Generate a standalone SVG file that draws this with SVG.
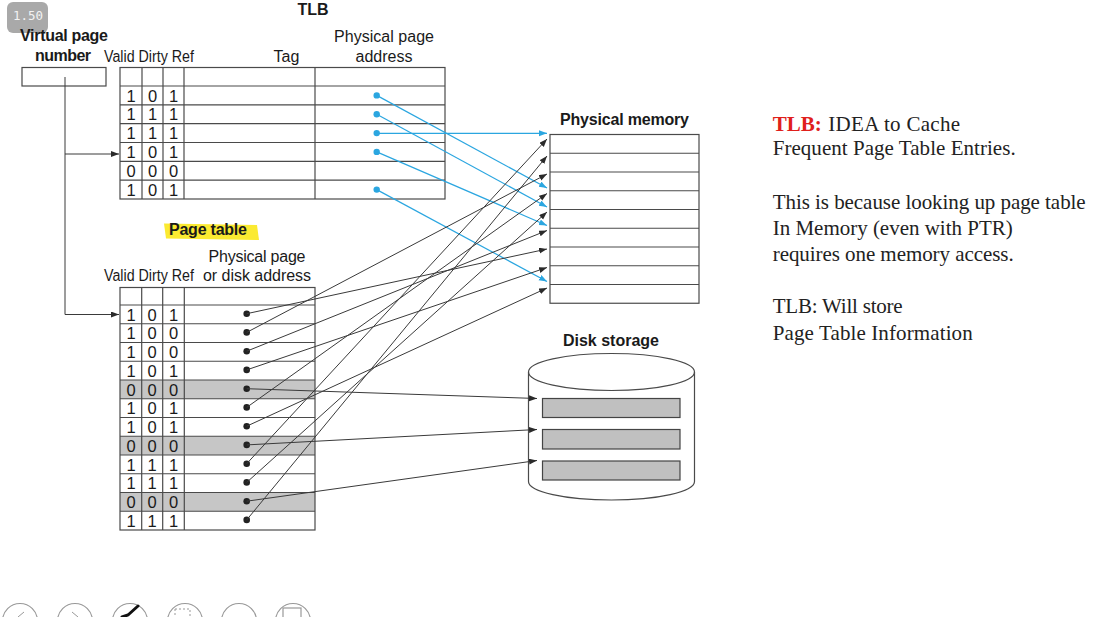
<svg xmlns="http://www.w3.org/2000/svg" width="1113" height="617" viewBox="0 0 1113 617">
<style>
.grid{fill:none;stroke:#4a4a4a;stroke-width:1.2}
.ln{stroke:#4a4a4a;stroke-width:1.2}
.sans{font-family:"Liberation Sans",Arial,Helvetica,sans-serif;fill:#1a1a1a}
.b{font-weight:bold}
.h{font-size:16px}
.dig{font-family:"Liberation Sans",Arial,sans-serif;font-size:16.5px;fill:#1a1a1a;text-anchor:middle}
.serif{font-family:"Liberation Serif","Times New Roman",serif;font-size:21px;fill:#222}
.red{fill:#e0201b;font-weight:bold}
.conn{stroke:#3a3a3a;stroke-width:1;fill:none;marker-end:url(#ah)}
.blue{stroke:#2ba6e0;stroke-width:1.2;fill:none;marker-end:url(#ahb)}
.dot{fill:#222}
.bdot{fill:#2ba6e0}
.gray{fill:#c6c6c6}
.slot{fill:#c0c0c0;stroke:#444;stroke-width:1.2}
.tb{fill:#fff;stroke:#999;stroke-width:1.2}
</style>
<defs>
<marker id="ah" markerUnits="userSpaceOnUse" markerWidth="9" markerHeight="7" refX="8" refY="3" orient="auto"><path d="M0,0 L8,3 L0,6 z" fill="#2a2a2a"/></marker>
<marker id="ahb" markerUnits="userSpaceOnUse" markerWidth="9" markerHeight="7" refX="8" refY="3" orient="auto"><path d="M0,0 L8,3 L0,6 z" fill="#2ba6e0"/></marker>
</defs>
<rect width="1113" height="617" fill="#fff"/>

<g id="badge">
<rect x="7" y="2" width="41" height="31" rx="6" fill="#9a9a9a" opacity="0.85"/>
<text x="13" y="20" font-family="'DejaVu Sans Mono','Liberation Mono',monospace" font-size="12.5" fill="#f2f2f2">1.50</text>
</g>

<g id="virtual-page-number">
<text class="sans b h" x="20" y="41" textLength="88">Virtual page</text>
<text class="sans b h" x="35" y="61" textLength="56">number</text>
<rect class="grid" x="22" y="67.5" width="84" height="18.5"/>
</g>

<g id="tlb">
<text class="sans b h" x="313" y="15" text-anchor="middle">TLB</text>
<text class="sans" font-size="16" x="104" y="61.5" textLength="90" lengthAdjust="spacingAndGlyphs">Valid Dirty Ref</text>
<text class="sans h" x="286.5" y="61.5" text-anchor="middle">Tag</text>
<text class="sans h" x="384" y="41.5" text-anchor="middle" textLength="100">Physical page</text>
<text class="sans h" x="384" y="61.5" text-anchor="middle">address</text>
<rect class="grid" x="120" y="67.5" width="325" height="131.5"/>
<g class="ln">
<line x1="120" y1="86" x2="445" y2="86"/>
<line x1="120" y1="104.8" x2="445" y2="104.8"/>
<line x1="120" y1="123.7" x2="445" y2="123.7"/>
<line x1="120" y1="142.5" x2="445" y2="142.5"/>
<line x1="120" y1="161.3" x2="445" y2="161.3"/>
<line x1="120" y1="180.2" x2="445" y2="180.2"/>
<line x1="142" y1="67.5" x2="142" y2="199"/>
<line x1="163" y1="67.5" x2="163" y2="199"/>
<line x1="184" y1="67.5" x2="184" y2="199"/>
<line x1="315" y1="67.5" x2="315" y2="199"/>
</g>
<g>
<text class="dig" x="131" y="101.5">1</text><text class="dig" x="152.5" y="101.5">0</text><text class="dig" x="173.5" y="101.5">1</text>
<text class="dig" x="131" y="120.3">1</text><text class="dig" x="152.5" y="120.3">1</text><text class="dig" x="173.5" y="120.3">1</text>
<text class="dig" x="131" y="139.2">1</text><text class="dig" x="152.5" y="139.2">1</text><text class="dig" x="173.5" y="139.2">1</text>
<text class="dig" x="131" y="158">1</text><text class="dig" x="152.5" y="158">0</text><text class="dig" x="173.5" y="158">1</text>
<text class="dig" x="131" y="176.8">0</text><text class="dig" x="152.5" y="176.8">0</text><text class="dig" x="173.5" y="176.8">0</text>
<text class="dig" x="131" y="195.7">1</text><text class="dig" x="152.5" y="195.7">0</text><text class="dig" x="173.5" y="195.7">1</text>
</g>
<circle class="bdot" cx="376.7" cy="95.4" r="3.2"/>
<circle class="bdot" cx="376.7" cy="114.3" r="3.2"/>
<circle class="bdot" cx="376.7" cy="133.1" r="3.2"/>
<circle class="bdot" cx="376.7" cy="151.9" r="3.2"/>
<circle class="bdot" cx="376.7" cy="189.6" r="3.2"/>
</g>

<g id="page-table">
<path d="M164,223.5 L257,225 L259,240 L166,238.5 Z" fill="#fbe820" opacity="0.92"/>
<text class="sans b h" x="169" y="234.5" textLength="78">Page table</text>
<text class="sans h" x="257" y="261.5" text-anchor="middle" textLength="97">Physical page</text>
<text class="sans h" x="257" y="281" text-anchor="middle" textLength="108">or disk address</text>
<text class="sans" font-size="16" x="104" y="281" textLength="90" lengthAdjust="spacingAndGlyphs">Valid Dirty Ref</text>
<rect class="gray" x="120" y="380" width="195" height="18.75"/>
<rect class="gray" x="120" y="436.25" width="195" height="18.75"/>
<rect class="gray" x="120" y="492.5" width="195" height="18.75"/>
<rect class="grid" x="120" y="287.5" width="195" height="242.5"/>
<g class="ln">
<line x1="120" y1="305" x2="315" y2="305"/>
<line x1="120" y1="323.75" x2="315" y2="323.75"/>
<line x1="120" y1="342.5" x2="315" y2="342.5"/>
<line x1="120" y1="361.25" x2="315" y2="361.25"/>
<line x1="120" y1="380" x2="315" y2="380"/>
<line x1="120" y1="398.75" x2="315" y2="398.75"/>
<line x1="120" y1="417.5" x2="315" y2="417.5"/>
<line x1="120" y1="436.25" x2="315" y2="436.25"/>
<line x1="120" y1="455" x2="315" y2="455"/>
<line x1="120" y1="473.75" x2="315" y2="473.75"/>
<line x1="120" y1="492.5" x2="315" y2="492.5"/>
<line x1="120" y1="511.25" x2="315" y2="511.25"/>
<line x1="141.7" y1="287.5" x2="141.7" y2="530"/>
<line x1="162.7" y1="287.5" x2="162.7" y2="530"/>
<line x1="184.3" y1="287.5" x2="184.3" y2="530"/>
</g>
<g>
<text class="dig" x="131" y="320.5">1</text><text class="dig" x="152.2" y="320.5">0</text><text class="dig" x="173.5" y="320.5">1</text>
<text class="dig" x="131" y="339.2">1</text><text class="dig" x="152.2" y="339.2">0</text><text class="dig" x="173.5" y="339.2">0</text>
<text class="dig" x="131" y="358">1</text><text class="dig" x="152.2" y="358">0</text><text class="dig" x="173.5" y="358">0</text>
<text class="dig" x="131" y="376.7">1</text><text class="dig" x="152.2" y="376.7">0</text><text class="dig" x="173.5" y="376.7">1</text>
<text class="dig" x="131" y="395.5">0</text><text class="dig" x="152.2" y="395.5">0</text><text class="dig" x="173.5" y="395.5">0</text>
<text class="dig" x="131" y="414.2">1</text><text class="dig" x="152.2" y="414.2">0</text><text class="dig" x="173.5" y="414.2">1</text>
<text class="dig" x="131" y="433">1</text><text class="dig" x="152.2" y="433">0</text><text class="dig" x="173.5" y="433">1</text>
<text class="dig" x="131" y="451.7">0</text><text class="dig" x="152.2" y="451.7">0</text><text class="dig" x="173.5" y="451.7">0</text>
<text class="dig" x="131" y="470.5">1</text><text class="dig" x="152.2" y="470.5">1</text><text class="dig" x="173.5" y="470.5">1</text>
<text class="dig" x="131" y="489.2">1</text><text class="dig" x="152.2" y="489.2">1</text><text class="dig" x="173.5" y="489.2">1</text>
<text class="dig" x="131" y="508">0</text><text class="dig" x="152.2" y="508">0</text><text class="dig" x="173.5" y="508">0</text>
<text class="dig" x="131" y="526.7">1</text><text class="dig" x="152.2" y="526.7">1</text><text class="dig" x="173.5" y="526.7">1</text>
</g>
<g class="dot">
<circle cx="246.7" cy="313.7" r="3.3"/>
<circle cx="246.7" cy="332.4" r="3.3"/>
<circle cx="246.7" cy="351.2" r="3.3"/>
<circle cx="246.7" cy="369.9" r="3.3"/>
<circle cx="246.7" cy="388.7" r="3.3"/>
<circle cx="246.7" cy="407.4" r="3.3"/>
<circle cx="246.7" cy="426.2" r="3.3"/>
<circle cx="246.7" cy="444.9" r="3.3"/>
<circle cx="246.7" cy="463.7" r="3.3"/>
<circle cx="246.7" cy="482.4" r="3.3"/>
<circle cx="246.7" cy="501.2" r="3.3"/>
<circle cx="246.7" cy="519.9" r="3.3"/>
</g>
</g>

<g id="physical-memory">
<text class="sans b h" x="624.5" y="125" text-anchor="middle" textLength="129">Physical memory</text>
<rect class="grid" x="550" y="134.5" width="149" height="168.75"/>
<g class="ln">
<line x1="550" y1="153.25" x2="699" y2="153.25"/>
<line x1="550" y1="172" x2="699" y2="172"/>
<line x1="550" y1="190.75" x2="699" y2="190.75"/>
<line x1="550" y1="209.5" x2="699" y2="209.5"/>
<line x1="550" y1="228.25" x2="699" y2="228.25"/>
<line x1="550" y1="247" x2="699" y2="247"/>
<line x1="550" y1="265.75" x2="699" y2="265.75"/>
<line x1="550" y1="284.5" x2="699" y2="284.5"/>
</g>
</g>

<g id="disk-storage">
<text class="sans b h" x="611" y="345.5" text-anchor="middle">Disk storage</text>
<path class="grid" d="M528.5,372 A83,18.5 0 0 1 694.5,372 V481.5 A83,18.5 0 0 1 528.5,481.5 Z" fill="#fff"/>
<path class="grid" d="M528.5,372 A83,18.5 0 0 0 694.5,372"/>
<rect class="slot" x="542.5" y="398.5" width="137.5" height="19"/>
<rect class="slot" x="542.5" y="429.5" width="137.5" height="19.5"/>
<rect class="slot" x="542.5" y="461" width="137.5" height="19"/>
</g>

<g id="connectors">
<polyline points="65,77 65,314.5" fill="none" stroke="#3a3a3a" stroke-width="1"/>
<line class="conn" x1="65" y1="154" x2="119" y2="154"/>
<line class="conn" x1="65" y1="314.5" x2="119" y2="314.5"/>
<line class="blue" x1="376.7" y1="95.4" x2="547" y2="188"/>
<line class="blue" x1="376.7" y1="114.3" x2="547" y2="207"/>
<line class="blue" x1="376.7" y1="133.3" x2="547" y2="133.3"/>
<line class="blue" x1="376.7" y1="151.9" x2="547" y2="225.5"/>
<line class="blue" x1="376.7" y1="189.6" x2="547" y2="281.5"/>
<line class="conn" x1="246.7" y1="313.7" x2="547" y2="249"/>
<line class="conn" x1="246.7" y1="332.4" x2="547" y2="174"/>
<line class="conn" x1="246.7" y1="351.2" x2="547" y2="230.5"/>
<line class="conn" x1="246.7" y1="369.9" x2="547" y2="267.5"/>
<line class="conn" x1="246.7" y1="407.4" x2="547" y2="193.5"/>
<line class="conn" x1="246.7" y1="426.2" x2="547" y2="288"/>
<line class="conn" x1="246.7" y1="463.7" x2="547" y2="139"/>
<line class="conn" x1="246.7" y1="482.4" x2="547" y2="212"/>
<line class="conn" x1="246.7" y1="519.9" x2="547" y2="156"/>
<line class="conn" x1="246.7" y1="388.7" x2="537" y2="398.5"/>
<line class="conn" x1="246.7" y1="444.9" x2="537" y2="429.5"/>
<line class="conn" x1="246.7" y1="501.2" x2="537" y2="460.5"/>
</g>

<g id="note-text">
<text class="serif red" x="772.7" y="130.7" textLength="49">TLB:</text>
<text class="serif" x="828.3" y="130.7" textLength="131.7">IDEA to Cache</text>
<text class="serif" x="772.7" y="155.3" textLength="243">Frequent Page Table Entries.</text>
<text class="serif" x="772.7" y="208.5" textLength="313">This is because looking up page table</text>
<text class="serif" x="772.7" y="235" textLength="240">In Memory (even with PTR)</text>
<text class="serif" x="772.7" y="261" textLength="241">requires one memory access.</text>
<text class="serif" x="772.7" y="313.3" textLength="130">TLB: Will store</text>
<text class="serif" x="772.7" y="339.8" textLength="200">Page Table Information</text>
</g>

<g id="toolbar">
<circle class="tb" cx="20" cy="621" r="17.5"/>
<circle class="tb" cx="75" cy="621" r="17.5"/>
<circle class="tb" cx="130" cy="621" r="17.5"/>
<circle class="tb" cx="185" cy="621" r="17.5"/>
<circle class="tb" cx="239" cy="621" r="17.5"/>
<circle class="tb" cx="293" cy="621" r="17.5"/>
<polyline points="24,612 18,617 24,622" fill="none" stroke="#999" stroke-width="1"/>
<polyline points="72,612 78,617 72,622" fill="none" stroke="#999" stroke-width="1"/>
<path d="M122,617 L128,615 L138,606" stroke="#111" stroke-width="3" fill="none" stroke-linecap="round"/>
<rect x="175" y="609" width="15" height="12" fill="none" stroke="#999" stroke-width="1" stroke-dasharray="2,2"/>
<rect x="283" y="608" width="18" height="10" fill="none" stroke="#999" stroke-width="1.2"/>
</g>
</svg>
